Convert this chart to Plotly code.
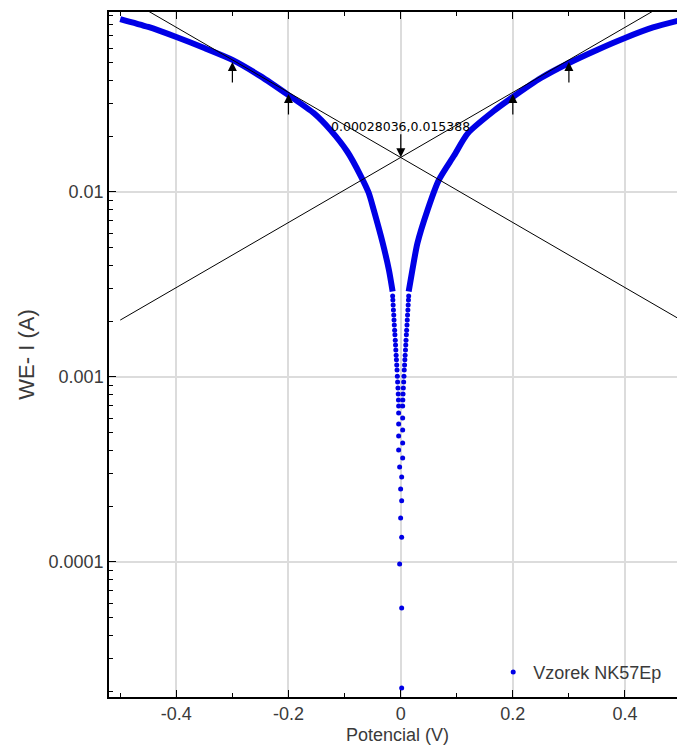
# Tafel plot - Vzorek NK57Ep
import math
import plotly.graph_objects as go

# cathodic branch (E < 0)
E_cat = [-0.50, -0.45, -0.40, -0.35, -0.30, -0.25, -0.20, -0.155, -0.125,
         -0.095, -0.071, -0.057, -0.048, -0.032, -0.021, -0.0143]
I_cat = [0.0861, 0.0780, 0.0688, 0.0600, 0.0518, 0.0423, 0.0334, 0.0267, 0.0216,
         0.0165, 0.0122, 0.0099, 0.0080, 0.0053, 0.0038, 0.0029]

# anodic branch (E > 0)
E_an = [0.0143, 0.021, 0.030, 0.048, 0.068, 0.095, 0.120, 0.166, 0.20, 0.25,
        0.30, 0.35, 0.40, 0.45, 0.50]
I_an = [0.0029, 0.0038, 0.0053, 0.0080, 0.0116, 0.0157, 0.0208, 0.0274, 0.0326, 0.0413,
        0.0498, 0.0586, 0.0680, 0.0775, 0.0851]

# individual points close to the corrosion potential
E_low = [-0.0143, -0.0139, -0.0134, -0.0129, -0.0123, -0.0118, -0.0113, -0.0107, -0.0102,
         -0.0096, -0.0091, -0.0086, -0.0080, -0.0075, -0.0070, -0.0064, -0.0059, -0.0054,
         -0.0048, -0.0043, -0.0039, -0.0036,
         0.0143, 0.0139, 0.0134, 0.0129, 0.0123, 0.0118, 0.0113, 0.0107, 0.0102,
         0.0096, 0.0091, 0.0086, 0.0080, 0.0075, 0.0070, 0.0064, 0.0059, 0.0054,
         0.0048, 0.0043, 0.0039, 0.0036,
         -0.0036, 0.0036, -0.0036, 0.0036, -0.0036, 0.0036, -0.0036, 0.0036,
         -0.0018, 0.0018, 0.0, 0.0018, 0.0, 0.0018, -0.0018, 0.0018, 0.0018]
I_low = [0.00274, 0.00261, 0.00245, 0.00230, 0.00216, 0.00203, 0.00191, 0.00179, 0.00169,
         0.00158, 0.00149, 0.00140, 0.00131, 0.00124, 0.00116, 0.00109, 0.00101, 0.000939,
         0.000873, 0.000810, 0.000751, 0.000697,
         0.00274, 0.00261, 0.00245, 0.00230, 0.00216, 0.00203, 0.00191, 0.00179, 0.00169,
         0.00158, 0.00149, 0.00140, 0.00131, 0.00124, 0.00116, 0.00109, 0.00101, 0.000939,
         0.000873, 0.000810, 0.000751, 0.000697,
         0.000638, 0.000600, 0.000557, 0.000517, 0.000480, 0.000440, 0.000403, 0.000365,
         0.000326, 0.000288, 0.000248, 0.000214, 0.000173, 0.000136, 0.0000975, 0.0000564,
         0.0000208]

# Tafel lines
tafel_E = [-0.5, 0.5]
anodic_fit = [0.00203, 0.1164]
cathodic_fit = [0.1164, 0.00203]

# arrow positions (fit range) and intersection
arrow_E = [-0.3, -0.2, 0.2, 0.3]
arrow_I = [0.0505, 0.0339, 0.0339, 0.0505]
Ecorr, Icorr = 0.00028036, 0.015388

x_ticks = [-0.4, -0.2, 0, 0.2, 0.4]
x_labels = ["-0.4", "-0.2", "0", "0.2", "0.4"]
y_ticks = [0.0001, 0.001, 0.01]
y_labels = ["0.0001", "0.001", "0.01"]

blue = "#0000e6"
fig = go.Figure()

for ex, iy in [(E_cat, I_cat), (E_an, I_an)]:
    fig.add_trace(go.Scatter(x=ex, y=iy, mode="lines",
                             line=dict(color=blue, width=6, shape="spline", smoothing=0.7),
                             showlegend=False, hoverinfo="skip"))
fig.add_trace(go.Scatter(x=tafel_E, y=anodic_fit, mode="lines", line=dict(color="black", width=1),
                         showlegend=False))
fig.add_trace(go.Scatter(x=tafel_E, y=cathodic_fit, mode="lines", line=dict(color="black", width=1),
                         showlegend=False))
fig.add_trace(go.Scatter(x=E_low, y=I_low, mode="markers", name="Vzorek NK57Ep",
                         marker=dict(color=blue, size=5)))

for e, i in zip(arrow_E, arrow_I):
    fig.add_annotation(x=e, y=math.log10(i), text="", showarrow=True, ax=0, ay=22,
                       arrowhead=2, arrowsize=1.5, arrowwidth=1.2, arrowcolor="black")
fig.add_annotation(x=Ecorr, y=math.log10(Icorr), text=f"{Ecorr},{Icorr}", showarrow=True,
                   ax=0, ay=-31, arrowhead=2, arrowsize=1.5, arrowwidth=1.2, arrowcolor="black",
                   font=dict(family="DejaVu Sans", size=12.5, color="black"), borderpad=0)

# x axis title, a little below the tick labels
fig.add_annotation(text="Potencial (V)", xref="paper", yref="paper", x=0.5, y=-0.055,
                   xanchor="center", yanchor="middle", showarrow=False,
                   font=dict(family="Liberation Sans, Arial", size=18, color="#3a3a3a"))

minor_y = [m * 10 ** d for d in range(-5, -1) for m in range(2, 10)]

fig.update_xaxes(range=[-0.52, 0.507], tickvals=x_ticks, ticktext=x_labels, automargin=False,
                 ticks="inside", ticklen=7, tickwidth=1.2, tickcolor="black",
                 showline=True, linecolor="black", linewidth=1.5, mirror="ticks",
                 showgrid=True, gridcolor="#dcdcdc", gridwidth=1.5, zeroline=False,
                 minor=dict(tickvals=[-0.5, -0.3, -0.1, 0.1, 0.3, 0.5], ticks="inside",
                            ticklen=4, tickcolor="black", showgrid=False))
fig.update_yaxes(type="log", range=[-4.73, -1.027], tickvals=y_ticks, ticktext=y_labels,
                 automargin=False,
                 ticks="inside", ticklen=7, tickwidth=1.2, tickcolor="black",
                 showline=True, linecolor="black", linewidth=1.5, mirror="ticks",
                 showgrid=True, gridcolor="#dcdcdc", gridwidth=1.5, zeroline=False,
                 minor=dict(tickvals=minor_y, ticks="inside", ticklen=4, tickcolor="black",
                            showgrid=False),
                 title=dict(text="WE- I (A)", standoff=8))

# the page puts the figure 8 px in from the top left corner
fig.update_layout(width=677, height=738, margin=dict(l=101, r=0, t=4, b=49),
                  plot_bgcolor="white", paper_bgcolor="white",
                  font=dict(family="Liberation Sans, Arial", size=18, color="#3a3a3a"),
                  legend=dict(x=0.667, y=0.036, xanchor="left", yanchor="middle",
                              bgcolor="rgba(0,0,0,0)"))

fig.write_html("out.html")
